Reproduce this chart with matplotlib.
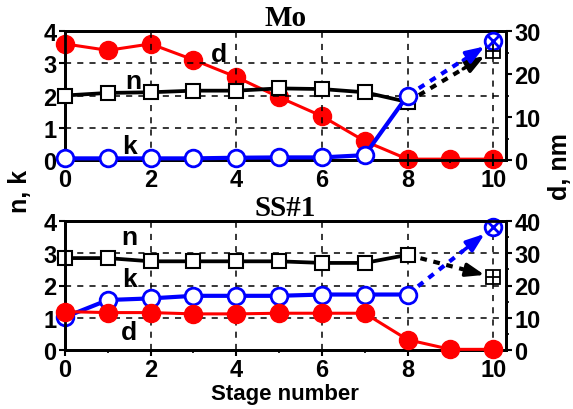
import matplotlib
matplotlib.use("Agg")
import matplotlib.pyplot as plt
import numpy as np
from matplotlib.ticker import MultipleLocator

stages = [0, 1, 2, 3, 4, 5, 6, 7, 8, 9, 10]

# Mo panel
mo_n = [2.0, 2.08, 2.1, 2.15, 2.15, 2.22, 2.2, 2.1, 1.8]
mo_k = [0.05, 0.05, 0.05, 0.05, 0.07, 0.08, 0.08, 0.15, 2.0]
mo_d = [27.0, 25.5, 27.0, 23.3, 19.3, 14.6, 10.2, 4.4, 0.2, 0.2, 0.2]
mo_n_end = 3.38
mo_k_end = 3.69

# SS#1 panel
ss_n = [2.85, 2.85, 2.75, 2.75, 2.75, 2.75, 2.7, 2.7, 2.95]
ss_k = [1.02, 1.55, 1.6, 1.68, 1.68, 1.68, 1.72, 1.72, 1.72]
ss_d = [11.9, 11.6, 11.6, 11.2, 11.2, 11.4, 11.4, 11.4, 3.2, 0.2, 0.2]
ss_n_end = 2.26
ss_k_end = 3.81

plt.rcParams['font.family'] = ['Liberation Sans', 'DejaVu Sans']
plt.rcParams['font.weight'] = 'bold'

fig = plt.figure(figsize=(5.73, 4.10), dpi=100)

W, H = 573, 410
def rect(l, t, r, b):
    return [l / W, 1 - b / H, (r - l) / W, (b - t) / H]

panels = [
    dict(rect=rect(65, 32, 506, 161), title="Mo", n=mo_n, k=mo_k, d=mo_d,
         n_end=mo_n_end, k_end=mo_k_end, dmax=30, d_on_top=False,
         lab=dict(n=(1.6, 2.45), k=(1.5, 0.42), d=(3.6, 3.3))),
    dict(rect=rect(65, 222, 506, 351), title="SS#1", n=ss_n, k=ss_k, d=ss_d,
         n_end=ss_n_end, k_end=ss_k_end, dmax=40, d_on_top=True,
         lab=dict(n=(1.5, 3.5), k=(1.5, 2.2), d=(1.5, 0.55))),
]

tick_fs = 17
for p in panels:
    ax = fig.add_axes(p["rect"])
    ax2 = ax.twinx()
    if p["d_on_top"]:
        ax.set_zorder(1)
        ax2.set_zorder(2)
        ax2.patch.set_visible(False)
    else:
        ax.set_zorder(2)
        ax.patch.set_visible(False)
        ax2.set_zorder(1)

    ax.set_xlim(0, 10.3)
    ax.set_ylim(0, 4)
    ax2.set_ylim(0, p["dmax"])

    # grid
    for gx in [2, 4, 6, 8, 10]:
        ax.axvline(gx, color='black', lw=1.1, ls=(0, (4, 4)), zorder=0)
    for gy in [1, 2, 3]:
        ax.axhline(gy, color='black', lw=1.1, ls=(0, (4, 4)), zorder=0)

    # d on right axis
    ax2.plot(stages, p["d"], color='#ff0000', lw=2.2, marker='o', ms=13,
             mfc='#ff0000', mec='#ff0000', clip_on=False, zorder=3)

    n_x = stages[:len(p["n"])]
    k_x = stages[:len(p["k"])]
    ax.plot(n_x, p["n"], color='black', lw=2.7, marker='s', ms=10.5,
            mfc='white', mec='black', mew=1.5, clip_on=False, zorder=4)
    ax.plot(k_x, p["k"], color='#0000ff', lw=3, marker='o', ms=12,
            mfc='white', mec='#0000ff', mew=2, clip_on=False, zorder=5)

    # dotted extensions with arrows
    for start, end, col in [(p["n"][-1], p["n_end"], 'black'),
                            (p["k"][-1], p["k_end"], '#0000ff')]:
        x0, x1 = n_x[-1], 10
        xa, xb = 9.3, 9.8
        ya = start + (end - start) * (xa - x0) / (x1 - x0)
        yb = start + (end - start) * (xb - x0) / (x1 - x0)
        ax.plot([x0, xa], [start, ya], color=col, lw=3, ls=(0, (1.6, 1.6)), zorder=3)
        ax.annotate('', xy=(xb, yb), xytext=(xa, ya),
                    arrowprops=dict(arrowstyle='-|>,head_length=1.1,head_width=0.4',
                                    color=col, lw=2.5, shrinkA=0, shrinkB=0),
                    zorder=6)
    ax.plot([10], [p["n_end"]], marker='s', ms=10, mfc='white', mec='black', mew=1.3,
            clip_on=False, zorder=6)
    ax.plot([10], [p["n_end"]], marker='+', ms=10, mec='black', mew=1.3,
            clip_on=False, zorder=7)
    ax.plot([10], [p["k_end"]], marker='o', ms=12, mfc='white', mec='#0000ff', mew=2,
            clip_on=False, zorder=6)
    ax.plot([10], [p["k_end"]], marker='x', ms=8, mec='#0000ff', mew=2,
            clip_on=False, zorder=7)

    # labels
    for key, (tx, ty) in p["lab"].items():
        ax.text(tx, ty, key, fontsize=19, fontweight='bold', ha='center',
                va='center', color='black', zorder=8)

    # title
    ax.set_title(p["title"], fontsize=21, fontweight='bold',
                 family=['Liberation Serif', 'DejaVu Serif'], pad=1)

    # ticks
    ax.set_xticks([0, 2, 4, 6, 8, 10])
    ax.xaxis.set_minor_locator(MultipleLocator(1))
    ax.set_yticks([0, 1, 2, 3, 4])
    ax2.set_yticks(np.arange(0, p["dmax"] + 1, 10))
    ax2.yaxis.set_minor_locator(MultipleLocator(5))
    ax.tick_params(axis='both', which='major', direction='out', length=4, width=1.5,
                   labelsize=tick_fs, pad=2)
    ax.tick_params(axis='x', which='minor', direction='out', length=2.5, width=1.2)
    ax.tick_params(axis='y', which='minor', left=False)
    ax.tick_params(axis='y', right=False)
    ax2.tick_params(axis='y', which='major', direction='out', length=4, width=1.5,
                    labelsize=tick_fs, pad=2)
    ax2.tick_params(axis='y', which='minor', direction='out', length=2.5, width=1.2)
    for lab in ax.get_xticklabels() + ax.get_yticklabels() + ax2.get_yticklabels():
        lab.set_fontweight('bold')
    for sp in list(ax.spines.values()) + list(ax2.spines.values()):
        sp.set_linewidth(2)

fig.text(20 / W, 1 - 191 / H, "n, k", rotation=90, fontsize=18, fontweight='bold',
         ha='center', va='center')
fig.text(560 / W, 1 - 167 / H, "d, nm", rotation=90, fontsize=18, fontweight='bold',
         ha='center', va='center')
fig.text(285 / W, 1 - 395 / H, "Stage number", fontsize=16, fontweight='bold',
         ha='center', va='center')

fig.savefig("out.png", dpi=100)
